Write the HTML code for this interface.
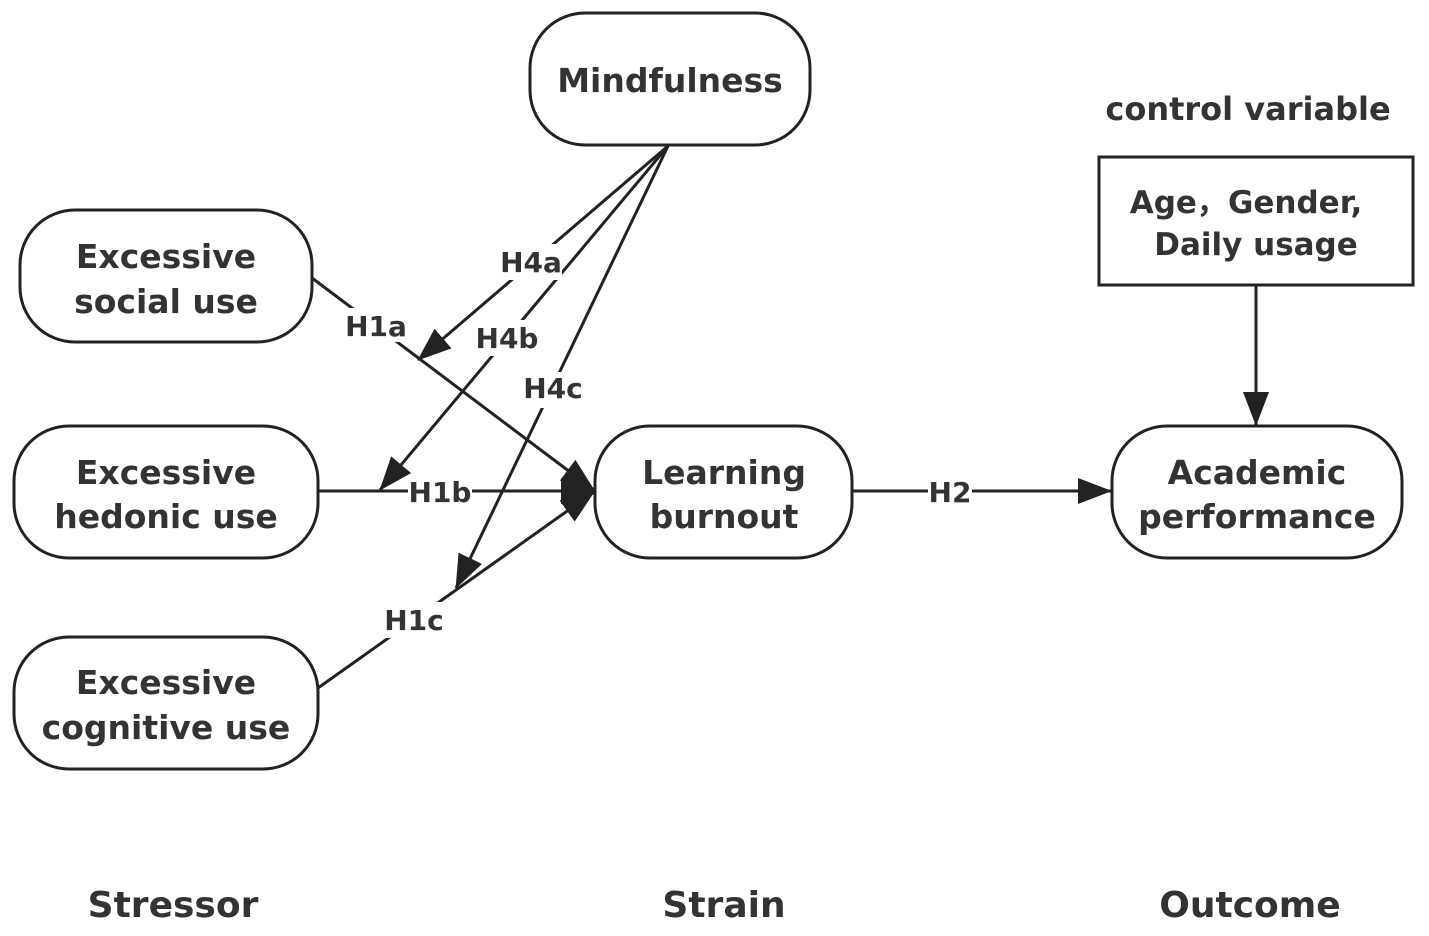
<!DOCTYPE html>
<html><head><meta charset="utf-8"><style>
html,body{margin:0;padding:0;background:#fff;}
svg text{font-family:"DejaVu Sans","Liberation Sans",sans-serif;font-weight:bold;fill:#333;}
</style></head><body>
<svg width="1429" height="931" viewBox="0 0 1429 931" xmlns="http://www.w3.org/2000/svg">
<defs>
<marker id="ah" markerWidth="12" markerHeight="10" refX="11" refY="5" orient="auto" markerUnits="userSpaceOnUse" viewBox="0 0 12 10">
<path d="M0,0 L12,5 L0,10 Z" fill="#222"/>
</marker>
<marker id="ah2" markerWidth="34" markerHeight="26" refX="33" refY="13" orient="auto" markerUnits="userSpaceOnUse" viewBox="0 0 34 26">
<path d="M0,0 L34,13 L0,26 Z" fill="#222"/>
</marker>
</defs>
<g fill="none" stroke="#222" stroke-width="3">
<rect x="530" y="13" width="280" height="132" rx="55"/>
<rect x="20" y="210" width="292" height="132" rx="55"/>
<rect x="14" y="426" width="304" height="132" rx="55"/>
<rect x="14" y="637" width="304" height="132" rx="55"/>
<rect x="595" y="426" width="257" height="132" rx="55"/>
<rect x="1112" y="426" width="290" height="132" rx="55"/>
<rect x="1099" y="157" width="314" height="128" rx="0"/>
</g>
<g stroke="#222" stroke-width="3" fill="none">
<line x1="312" y1="278" x2="594" y2="490" marker-end="url(#ah2)"/>
<line x1="318" y1="491" x2="594" y2="491" marker-end="url(#ah2)"/>
<line x1="318" y1="688" x2="594" y2="492" marker-end="url(#ah2)"/>
<line x1="668" y1="146" x2="418" y2="360" marker-end="url(#ah2)"/>
<line x1="668" y1="146" x2="380" y2="490" marker-end="url(#ah2)"/>
<line x1="668" y1="146" x2="456" y2="588" marker-end="url(#ah2)"/>
<line x1="852" y1="491" x2="1111" y2="491" marker-end="url(#ah2)"/>
<line x1="1256" y1="285" x2="1256" y2="425" marker-end="url(#ah2)"/>
</g>
<g fill="#fff">
<rect x="345" y="308" width="62" height="34"/>
<rect x="500" y="244" width="62" height="36"/>
<rect x="474" y="320" width="66" height="36"/>
<rect x="522" y="372" width="62" height="36"/>
<rect x="408" y="476" width="64" height="32"/>
<rect x="382" y="602" width="64" height="36"/>
<rect x="928" y="476" width="44" height="32"/>
</g>
<g font-size="28">
<text x="376" y="336" text-anchor="middle">H1a</text>
<text x="531" y="272" text-anchor="middle">H4a</text>
<text x="507" y="348" text-anchor="middle">H4b</text>
<text x="553" y="398" text-anchor="middle">H4c</text>
<text x="440" y="502" text-anchor="middle">H1b</text>
<text x="414" y="630" text-anchor="middle">H1c</text>
<text x="950" y="502" text-anchor="middle">H2</text>
</g>
<g font-size="33" text-anchor="middle">
<text x="670" y="92">Mindfulness</text>
<text x="166" y="268">Excessive</text>
<text x="166" y="313">social use</text>
<text x="166" y="484">Excessive</text>
<text x="166" y="528">hedonic use</text>
<text x="166" y="694">Excessive</text>
<text x="166" y="739">cognitive use</text>
<text x="724" y="484">Learning</text>
<text x="724" y="528">burnout</text>
<text x="1257" y="484">Academic</text>
<text x="1257" y="528">performance</text>
<text x="1248" y="120" font-size="32">control variable</text>
<text x="1246" y="213" font-size="31">Age，Gender,</text>
<text x="1256" y="255" font-size="31">Daily usage</text>
<text x="173" y="917" font-size="36">Stressor</text>
<text x="724" y="917" font-size="36">Strain</text>
<text x="1250" y="917" font-size="36">Outcome</text>
</g>
</svg>
</body></html>
